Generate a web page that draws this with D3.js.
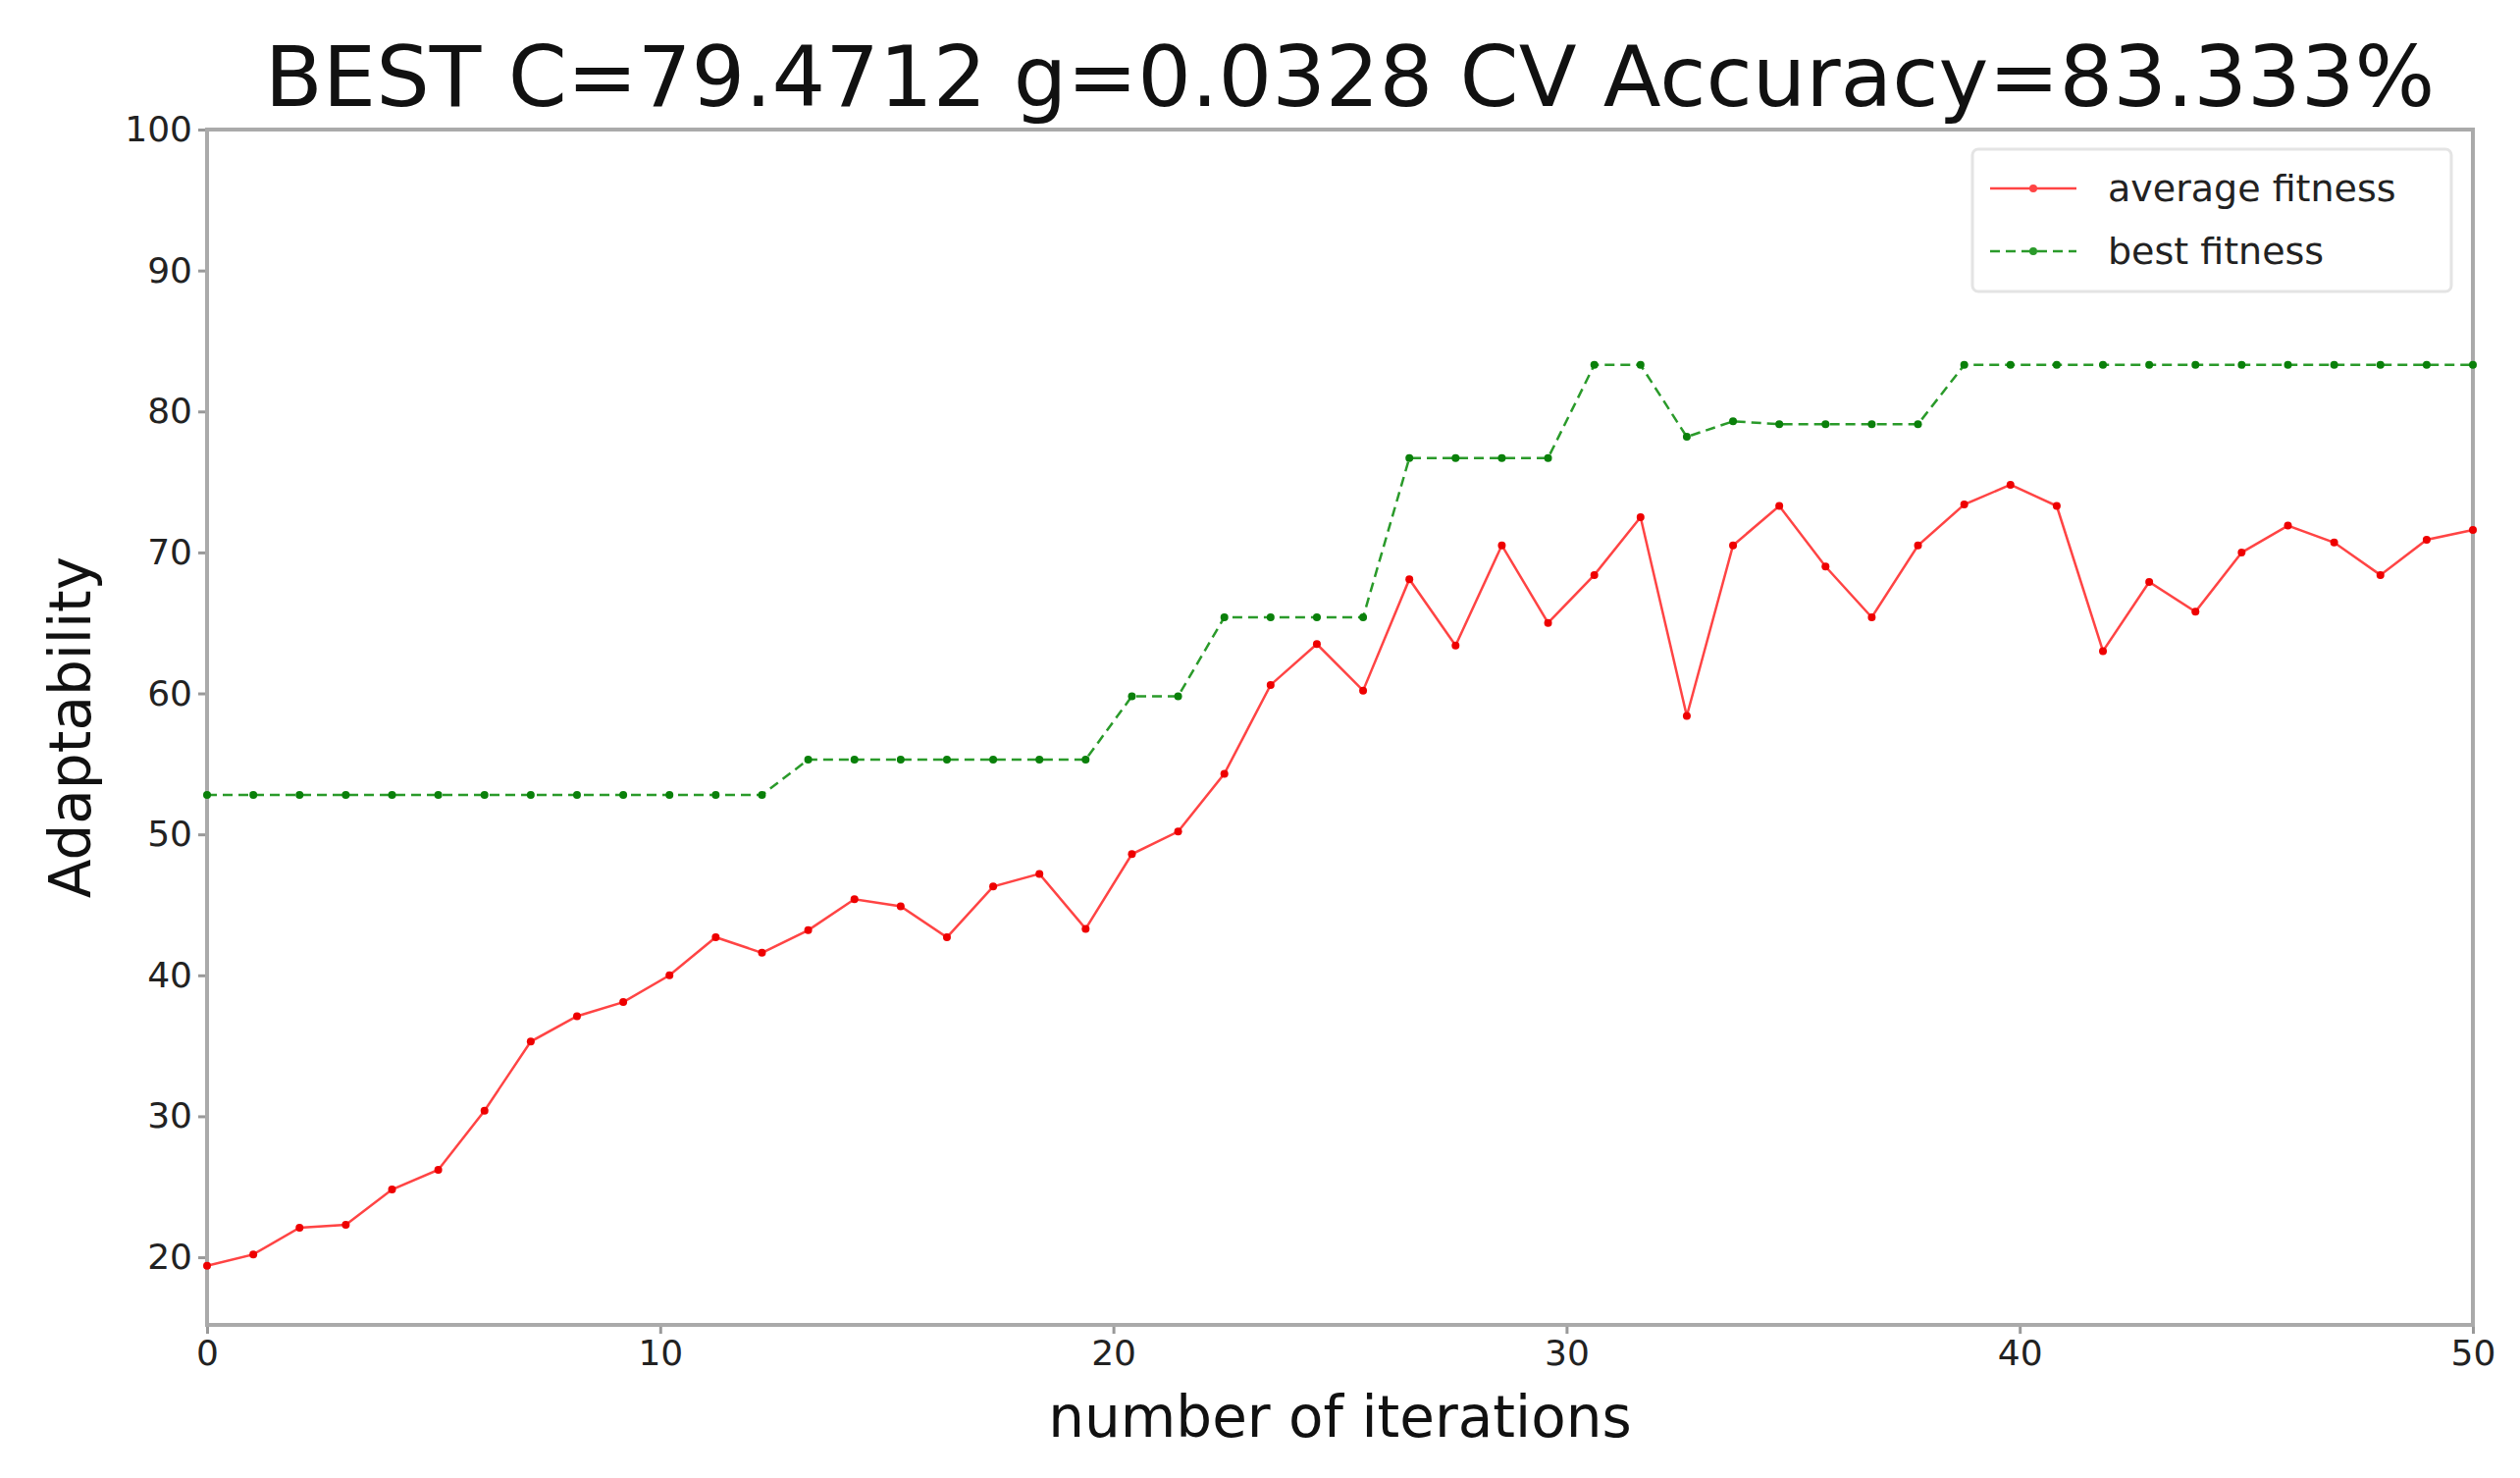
<!DOCTYPE html>
<html><head><meta charset="utf-8">
<script src="https://cdn.jsdelivr.net/npm/d3@7"></script>
<style>body{margin:0;background:#fff}text{font-family:"DejaVu Sans",sans-serif}</style>
</head><body><svg id="chart" width="2568" height="1506"></svg>
<script>
var avgFitness = [19.4,20.2,22.1,22.3,24.8,26.2,30.4,35.3,37.1,38.1,40.0,42.7,41.6,43.2,45.4,44.9,42.7,46.3,47.2,43.3,
  48.6,50.2,54.3,60.6,63.5,60.2,68.1,63.4,70.5,65.0,68.4,72.5,58.4,70.5,73.3,69.0,65.4,70.5,73.4,74.8,
  73.3,63.0,67.9,65.8,70.0,71.9,70.7,68.4,70.9,71.6];
var bestFitness = [52.8,52.8,52.8,52.8,52.8,52.8,52.8,52.8,52.8,52.8,52.8,52.8,52.8,55.3,55.3,55.3,55.3,55.3,55.3,55.3,
  59.8,59.8,65.4,65.4,65.4,65.4,76.7,76.7,76.7,76.7,83.3,83.3,78.2,79.3,79.1,79.1,79.1,79.1,83.3,83.3,
  83.3,83.3,83.3,83.3,83.3,83.3,83.3,83.3,83.3,83.3];
var xTicks = [0,10,20,30,40,50];
var yTicks = [20,30,40,50,60,70,80,90,100];
var seriesNames = ["average fitness","best fitness"];

var svg = d3.select("#chart");
var m = {l:211, r:2520, t:132, b:1350};
var x = d3.scaleLinear().domain([0,50]).range([m.l, m.r]);
var y = d3.scaleLinear().domain([15.2,100]).range([m.b, m.t]);
var n = avgFitness.length;
var xs = function(i){ return i*50/(n-1); };

var gx = svg.append("g").attr("transform","translate(0,"+m.b+")")
  .call(d3.axisBottom(x).tickValues(xTicks).tickSize(9).tickPadding(6));
var gy = svg.append("g").attr("transform","translate("+m.l+",0)")
  .call(d3.axisLeft(y).tickValues(yTicks).tickSize(9).tickPadding(6));
[gx,gy].forEach(function(g){
  g.selectAll("text").attr("font-size",36).attr("fill","#222");
  g.selectAll("line").attr("stroke","#999").attr("stroke-width",3);
  g.select(".domain").remove();
});
svg.append("rect").attr("x",m.l).attr("y",m.t).attr("width",m.r-m.l).attr("height",m.b-m.t)
  .attr("fill","none").attr("stroke","#aaa").attr("stroke-width",4);

var line = d3.line().x(function(d,i){return x(xs(i));}).y(function(d){return y(d);});
var series = [
  {data:avgFitness, color:"#ff4444", dash:null},
  {data:bestFitness, color:"#2a9a2a", dash:"10,6"}
];
series.forEach(function(s){
  svg.append("path").datum(s.data).attr("d",line).attr("fill","none")
    .attr("stroke",s.color).attr("stroke-width",2.5).attr("stroke-dasharray",s.dash);
  svg.selectAll(null).data(s.data).enter().append("circle")
    .attr("cx",function(d,i){return x(xs(i));}).attr("cy",function(d){return y(d);})
    .attr("r",4).attr("fill",s.color.replace("#ff4444","#e00").replace("#2a9a2a","#0a800a"));
});

// legend
var lg = svg.append("g").attr("transform","translate(2010,152)");
lg.append("rect").attr("width",488).attr("height",145).attr("rx",6)
  .attr("fill","#fff").attr("stroke","#e4e4e4").attr("stroke-width",3);
series.forEach(function(s,i){
  var yy = 40 + i*64;
  lg.append("line").attr("x1",18).attr("x2",106).attr("y1",yy).attr("y2",yy)
    .attr("stroke",s.color).attr("stroke-width",2.5).attr("stroke-dasharray",s.dash);
  lg.append("circle").attr("cx",62).attr("cy",yy).attr("r",4).attr("fill",s.color);
  lg.append("text").attr("x",138).attr("y",yy+13).attr("font-size",38).attr("fill","#222").text(seriesNames[i]);
});

svg.append("text").attr("x",(m.l+m.r)/2 + 10).attr("y",108).attr("text-anchor","middle")
  .attr("font-size",86).attr("fill","#111").text("BEST C=79.4712 g=0.0328 CV Accuracy=83.333%");
svg.append("text").attr("x",(m.l+m.r)/2).attr("y",1464).attr("text-anchor","middle")
  .attr("font-size",58).attr("fill","#111").text("number of iterations");
svg.append("text").attr("transform","translate(92,"+((m.t+m.b)/2)+") rotate(-90)").attr("text-anchor","middle")
  .attr("font-size",58).attr("fill","#111").text("Adaptability");
</script></body></html>
